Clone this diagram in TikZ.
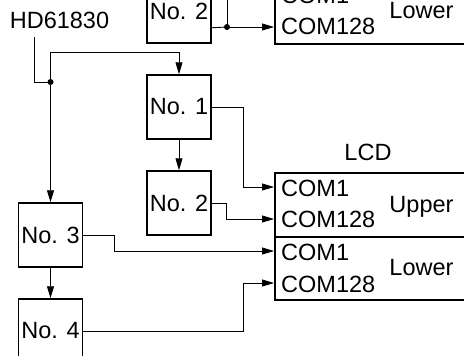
\documentclass[tikz,border=0pt]{standalone}
\usepackage{fontspec}
\setmainfont{Liberation Sans}
\usetikzlibrary{arrows.meta}
\begin{document}
\begin{tikzpicture}[x=1pt,y=-1pt,
  txt/.style={inner sep=0pt,font=\fontsize{23.5pt}{28pt}\selectfont},
  chip/.style={txt,draw,line width=1.5pt,minimum width=64pt,minimum height=64pt},
  lcdbox/.style={draw,line width=1.5pt,minimum width=250pt,anchor=north west,inner sep=0pt},
  wire/.style={line width=0.9pt},
  arr/.style={wire,-{Triangle[length=12pt,width=7pt]}},
  dot/.style={circle,fill,inner sep=0pt,minimum size=6pt}]
\useasboundingbox (0,0) rectangle (464,356);
\clip (0,0) rectangle (464,356);
% top (cut) part
\node[chip] (n2t) at (179,11) {No. 2};
\node[lcdbox,minimum height=64pt] (lcdT) at (274,-21) {};
\node[lcdbox,minimum height=64pt] (lcdTT) at (274,-85) {};
\node[txt,anchor=west] (c1t) at (281,-5) {COM1};
\node[txt,anchor=west] (c128t) at (281,26) {COM128};
\node[txt,anchor=base] (lowt) at (421.5,18) {Lower};
\node[dot] (d2) at (227,27) {};
\draw[wire] ([yshift=16pt]n2t.south east) -- (d2.center);
\draw[arr] (d2.center) -- (d2 -| lcdT.west);
\draw[wire] (d2.center) -- ++(0,-40);
% controller
\node[txt] (hd) at (59.5,20.5) {HD61830};
\coordinate (hdo) at (34,37);
\node[dot] (d1) at (50.5,82) {};
% drivers
\node[chip] (n1) at (179,107) {No. 1};
\node[chip] (n2) at (179,203) {No. 2};
\node[chip] (n3) at (50.5,235) {No. 3};
\node[chip] (n4) at (50.5,331) {No. 4};
% LCD
\node[txt] (lcd) at (368,152.5) {LCD};
\node[lcdbox,minimum height=64pt] (lcdU) at (274,172) {};
\node[lcdbox,minimum height=63pt] (lcdL) at (274,236) {};
\node[txt,anchor=west] (c1u) at (281,188) {COM1};
\node[txt,anchor=west] (c128u) at (281,219) {COM128};
\node[txt,anchor=base] (up) at (421.5,212) {Upper};
\node[txt,anchor=west] (c1l) at (281,252) {COM1};
\node[txt,anchor=west] (c128l) at (281,284) {COM128};
\node[txt,anchor=base] (low) at (421.5,275) {Lower};
% wires
\draw[wire] (hdo) |- (d1.center);
\draw[arr] (d1.center) |- ([yshift=22pt]n1.north) -- (n1.north);
\draw[arr] (d1.center) -- (d1 |- n3.north);
\draw[arr] (n1.south) -- (n2.north);
\draw[arr] (n3.south) -- (n4.north);
\draw[arr] (n1.east) -- ++(32,0) |- ([yshift=1pt]lcdU.west |- c1u);
\draw[arr] (n2.east) -- ++(15,0) |- (lcdU.west |- c128u);
\draw[arr] (n3.east) -- ++(31,0) |- ([yshift=1pt]lcdL.west |- c1l);
\draw[arr] (n4.east) -- ++(160,0) |- ([yshift=1pt]lcdL.west |- c128l);
\end{tikzpicture}
\end{document}
